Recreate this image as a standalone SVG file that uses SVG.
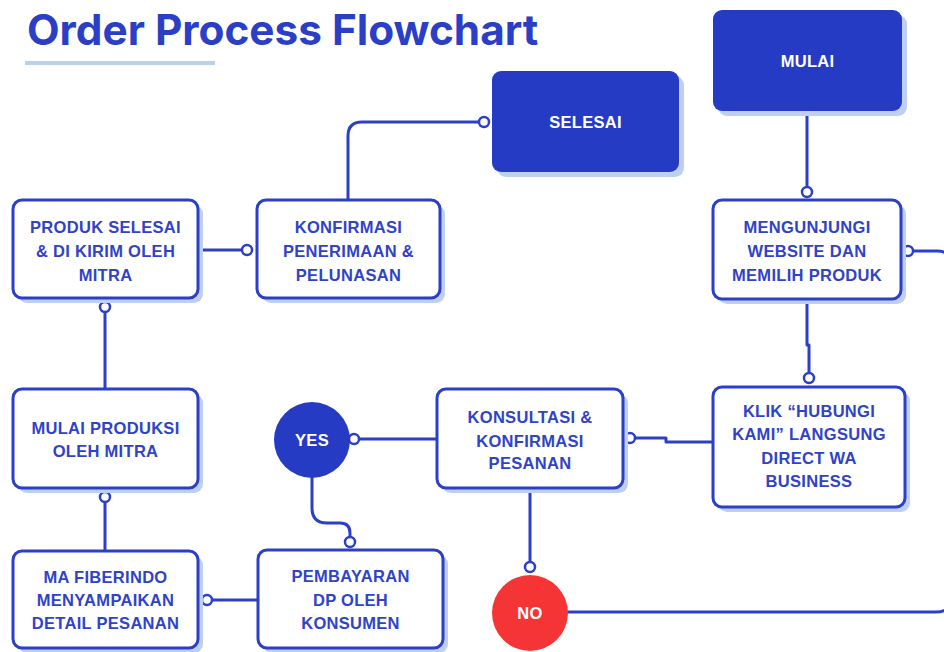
<svg xmlns="http://www.w3.org/2000/svg" width="944" height="652" viewBox="0 0 944 652">
<style>
.sh{fill:#bfcff1}
.bx{fill:#ffffff;stroke:#2c3fc7;stroke-width:3}
.fb{fill:#263bc4}
.t{font-family:"Liberation Sans",Arial,sans-serif;font-weight:700;font-size:16.5px;fill:#2f43c8;text-anchor:middle;letter-spacing:0.3px}
.w{fill:#ffffff}
.c{fill:none;stroke:#2c3fc7;stroke-width:3;stroke-linecap:round;stroke-linejoin:round}
.d{fill:#ffffff;stroke:#2c3fc7;stroke-width:2.5}
</style>
<rect width="944" height="652" fill="#ffffff"/>
<g id="title">
<text x="27" y="45" font-family="Inter,'Liberation Sans',sans-serif" font-weight="700" font-size="42.3" fill="#2b3ec6">Order Process Flowchart</text>
<rect x="25" y="61" width="190" height="4" fill="#bccff0"/>
</g>
<g id="connectors">
<path class="c" d="M807 111 V187"/>
<path class="c" d="M807 299 V345 H809 V373"/>
<path class="c" d="M713 442 H666 V438 H635"/>
<path class="c" d="M437 439 H359"/>
<path class="c" d="M312 478 V508 Q312 523 327 523 H340 Q350 523 350 533 V537"/>
<path class="c" d="M258 600 H212"/>
<path class="c" d="M105 551 V502"/>
<path class="c" d="M105 389 V312"/>
<path class="c" d="M198 250 H242"/>
<path class="c" d="M348 200 V136 Q348 122 362 122 H479"/>
<path class="c" d="M530 488 V562"/>
<path class="c" d="M568 612 H936 Q952 612 952 596 V266 Q952 251 937 251 H913"/>
<circle class="d" cx="807" cy="192" r="5"/>
<circle class="d" cx="809" cy="378" r="5"/>
<circle class="d" cx="630" cy="438" r="5"/>
<circle class="d" cx="354" cy="439" r="5"/>
<circle class="d" cx="350" cy="542" r="5"/>
<circle class="d" cx="207" cy="600" r="5"/>
<circle class="d" cx="105" cy="497" r="5"/>
<circle class="d" cx="105" cy="307" r="5"/>
<circle class="d" cx="247" cy="250" r="5"/>
<circle class="d" cx="484" cy="122" r="5"/>
<circle class="d" cx="530" cy="567" r="5"/>
<circle class="d" cx="908" cy="251" r="5"/>
</g>
<g id="mulai">
<rect class="sh" x="718" y="15" width="189" height="101" rx="9"/>
<rect class="fb" x="713" y="10" width="189" height="101" rx="9"/>
<text class="t w" x="807.5" y="67">MULAI</text>
</g>
<g id="selesai">
<rect class="sh" x="497" y="76" width="187" height="101" rx="9"/>
<rect class="fb" x="492" y="71" width="187" height="101" rx="9"/>
<text class="t w" x="585.5" y="128">SELESAI</text>
</g>
<g id="mengunjungi">
<rect class="sh" x="718" y="205" width="188" height="99" rx="9"/>
<rect class="bx" x="713" y="200" width="188" height="99" rx="9"/>
<text class="t" x="807" y="233">MENGUNJUNGI</text>
<text class="t" x="807" y="257">WEBSITE DAN</text>
<text class="t" x="807" y="281">MEMILIH PRODUK</text>
</g>
<g id="klik">
<rect class="sh" x="718" y="392" width="192" height="120" rx="9"/>
<rect class="bx" x="713" y="387" width="192" height="120" rx="9"/>
<text class="t" x="809" y="417">KLIK “HUBUNGI</text>
<text class="t" x="809" y="440">KAMI” LANGSUNG</text>
<text class="t" x="809" y="464">DIRECT WA</text>
<text class="t" x="809" y="487">BUSINESS</text>
</g>
<g id="konsultasi">
<rect class="sh" x="442" y="394" width="186" height="99" rx="9"/>
<rect class="bx" x="437" y="389" width="186" height="99" rx="9"/>
<text class="t" x="530" y="423">KONSULTASI &amp;</text>
<text class="t" x="530" y="447">KONFIRMASI</text>
<text class="t" x="530" y="469">PESANAN</text>
</g>
<g id="yes">
<circle class="fb" cx="312" cy="440" r="38"/>
<text class="t w" x="312" y="446">YES</text>
</g>
<g id="no">
<circle cx="530" cy="613" r="38" fill="#f53535"/>
<text class="t w" x="530" y="619">NO</text>
</g>
<g id="pembayaran">
<rect class="sh" x="263" y="555" width="185" height="98" rx="9"/>
<rect class="bx" x="258" y="550" width="185" height="98" rx="9"/>
<text class="t" x="350.5" y="582">PEMBAYARAN</text>
<text class="t" x="350.5" y="606">DP OLEH</text>
<text class="t" x="350.5" y="629">KONSUMEN</text>
</g>
<g id="mafiberindo">
<rect class="sh" x="18" y="556" width="185" height="97" rx="9"/>
<rect class="bx" x="13" y="551" width="185" height="97" rx="9"/>
<text class="t" x="105.5" y="583">MA FIBERINDO</text>
<text class="t" x="105.5" y="606">MENYAMPAIKAN</text>
<text class="t" x="105.5" y="629">DETAIL PESANAN</text>
</g>
<g id="mulaiproduksi">
<rect class="sh" x="18" y="394" width="185" height="99" rx="9"/>
<rect class="bx" x="13" y="389" width="185" height="99" rx="9"/>
<text class="t" x="105.5" y="434">MULAI PRODUKSI</text>
<text class="t" x="105.5" y="457">OLEH MITRA</text>
</g>
<g id="produkselesai">
<rect class="sh" x="18" y="205" width="185" height="98" rx="9"/>
<rect class="bx" x="13" y="200" width="185" height="98" rx="9"/>
<text class="t" x="105.5" y="233">PRODUK SELESAI</text>
<text class="t" x="105.5" y="257">&amp; DI KIRIM OLEH</text>
<text class="t" x="105.5" y="281">MITRA</text>
</g>
<g id="konfirmasi">
<rect class="sh" x="262" y="205" width="183" height="98" rx="9"/>
<rect class="bx" x="257" y="200" width="183" height="98" rx="9"/>
<text class="t" x="348.5" y="233">KONFIRMASI</text>
<text class="t" x="348.5" y="257">PENERIMAAN &amp;</text>
<text class="t" x="348.5" y="281">PELUNASAN</text>
</g>
</svg>
